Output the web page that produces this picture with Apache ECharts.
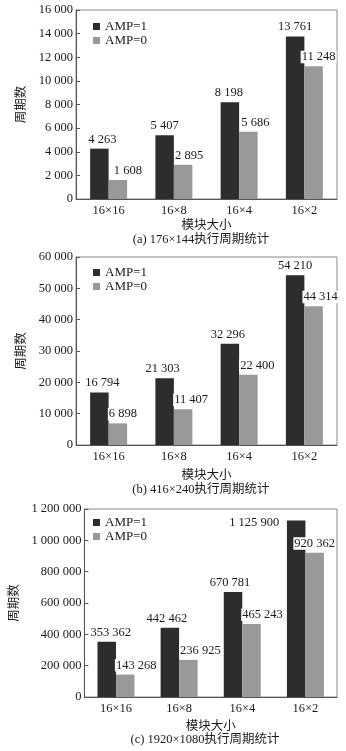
<!DOCTYPE html>
<html>
<head>
<meta charset="utf-8">
<script src="https://cdn.jsdelivr.net/npm/echarts@6/dist/echarts.min.js"></script>
<style>
html,body{margin:0;padding:0;background:#fff;}
#chart{width:346px;height:751px;}
</style>
</head>
<body>
<div id="chart"></div>
<script>
// ---- data ----
const categories = ['16×16', '16×8', '16×4', '16×2'];
const seriesNames = ['AMP=1', 'AMP=0'];
const amp1A = [4263, 5407, 8198, 13761];
const amp0A = [1608, 2895, 5686, 11248];
const amp1B = [16794, 21303, 32296, 54210];
const amp0B = [6898, 11407, 22400, 44314];
const amp1C = [353362, 442462, 670781, 1125900];
const amp0C = [143268, 236925, 465243, 920362];
const yMaxes = [16000, 60000, 1200000];
const yIntervals = [2000, 10000, 200000];
const yAxisName = '周期数';
const xAxisName = '模块大小';
const captions = ['(a) 176×144执行周期统计', '(b) 416×240执行周期统计', '(c) 1920×1080执行周期统计'];

// ---- style / layout ----
const FONT = "'Liberation Serif', 'Noto Sans CJK SC', serif";
const CJK = "'Liberation Serif', 'Noto Sans CJK SC', serif";
const DARK = '#2d2d2d';
const GRAY = '#999999';
const TEXT = '#1a1a1a';
const grids = [
  {left: 76, top: 10, width: 261, height: 189},
  {left: 76, top: 257, width: 261, height: 188},
  {left: 77, top: 509, width: 260, height: 188}
];
const yNameGaps = [45, 45, 58];
const xNameGaps = [20, 24, 23];
const legendTops = [15, 261, 511];
const captionY = [240, 490, 740];
const captionX = [201, 201, 205];
// label offsets [dx, dy] per bar
const offDark = [
  [[3, 0], [0, 0], [-1, 0], [0, 0]],
  [[3, 0], [-2, 0], [-2, 0], [0, 0]],
  [[4, 0], [-3, 0], [-3, 0], [-42, 11]]
];
const offGray = [
  [[10, 0], [6, 0], [7, 0], [5, 0]],
  [[5, 0], [8, 0], [9, 0], [7, 0]],
  [[11, 0], [12, 0], [11, 0], [0, 0]]
];

const fmt = v => String(v).replace(/\B(?=(\d{3})+(?!\d))/g, ' ');
const dataSets = [[amp1A, amp0A], [amp1B, amp0B], [amp1C, amp0C]];

const option = {
  animation: false,
  backgroundColor: '#fff',
  grid: grids.map(g => Object.assign({show: true, borderColor: '#888', borderWidth: 1, containLabel: false}, g)),
  legend: legendTops.map(t => ({
    orient: 'vertical', left: 88, top: t, itemWidth: 7, itemHeight: 7, itemGap: 1,
    icon: 'rect', data: seriesNames,
    textStyle: {fontFamily: FONT, fontSize: 13, color: TEXT}
  })),
  xAxis: grids.map((g, i) => ({
    type: 'category', gridIndex: i, data: categories,
    name: xAxisName, nameLocation: 'middle', nameGap: xNameGaps[i],
    nameTextStyle: {fontFamily: CJK, fontSize: 12.5, color: TEXT},
    axisLine: {lineStyle: {color: '#555', width: 1}},
    axisTick: {inside: true, length: 5, lineStyle: {color: '#555'}},
    axisLabel: {fontFamily: FONT, fontSize: 12.5, color: TEXT, margin: 5}
  })),
  yAxis: grids.map((g, i) => ({
    type: 'value', gridIndex: i, min: 0, max: yMaxes[i], interval: yIntervals[i],
    name: yAxisName, nameLocation: 'middle', nameGap: yNameGaps[i],
    nameTextStyle: {fontFamily: CJK, fontSize: 12.5, color: TEXT},
    axisLine: {show: true, lineStyle: {color: '#555', width: 1}},
    axisTick: {show: true, inside: true, length: 4, lineStyle: {color: '#555'}},
    splitLine: {show: false},
    axisLabel: {fontFamily: FONT, fontSize: 12.5, color: TEXT, margin: 3, formatter: fmt}
  })),
  series: [],
  graphic: captions.map((c, i) => ({
    type: 'text', x: captionX[i], y: captionY[i],
    style: {text: c, font: "12.5px " + CJK, fill: TEXT, align: 'center', verticalAlign: 'middle'}
  }))
};

dataSets.forEach((pair, gi) => {
  pair.forEach((vals, si) => {
    const offs = si === 0 ? offDark[gi] : offGray[gi];
    option.series.push({
      type: 'bar', name: seriesNames[si], xAxisIndex: gi, yAxisIndex: gi,
      barWidth: 18.5, barGap: '0%',
      itemStyle: {color: si === 0 ? DARK : GRAY},
      label: {
        show: true, position: 'top', distance: 3,
        fontFamily: FONT, fontSize: 12.5, color: TEXT,
        backgroundColor: '#fff', padding: [0, 1, 0, 1],
        formatter: p => fmt(p.value)
      },
      data: vals.map((v, k) => ({value: v, label: {offset: offs[k]}}))
    });
  });
});

const chart = echarts.init(document.getElementById('chart'), null, {renderer: 'canvas'});
chart.setOption(option);
</script>
</body>
</html>
